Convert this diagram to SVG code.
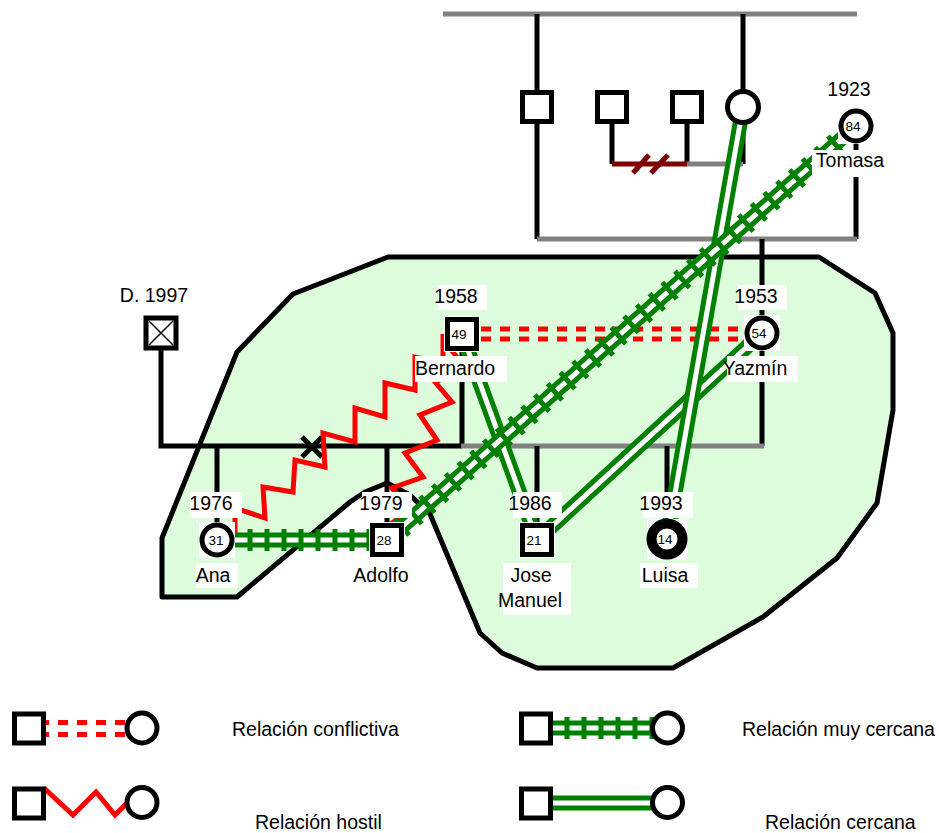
<svg xmlns="http://www.w3.org/2000/svg" width="939" height="833" viewBox="0 0 939 833">
  <style>
    text { font-family: "Liberation Sans", Arial, sans-serif; fill: #000; }
    .lbl { font-size: 19.5px; text-anchor: middle; }
    .num { font-size: 13.5px; text-anchor: middle; }
    .leg { font-size: 19.5px; }
    .bg { fill: #fff; }
    .fam { stroke: #000; stroke-width: 5; fill: none; }
    .gray { stroke: #808080; stroke-width: 5; fill: none; }
    .div { stroke: #800000; stroke-width: 5; fill: none; }
    .shape { fill: #fff; stroke: #000; stroke-width: 5; }
    .g-out { stroke: #008000; stroke-width: 15; fill: none; }
    .g-in { stroke: #fff; stroke-width: 5; fill: none; }
    .g-tie { stroke: #008000; stroke-width: 22; stroke-dasharray: 5 12; fill: none; }
    .conflict { stroke: #f00; stroke-width: 5; stroke-dasharray: 10 9; fill: none; }
    .hostile { stroke: #f00; stroke-width: 5; fill: none; stroke-linejoin: miter; }
  </style>

  <!-- household boundary -->
  <path id="household" d="M388,257 L819,257 L875,293 L893,333 L893,410 L877,503 L837,558 L763,617 L673,668 L537,668 L502,653 L480,633 L430,514 L410,495 L387,483 L365,492 L350,502 L237,597 L162,597 L162,538 L237,352 L293,294 Z" fill="#dcfcdc" stroke="#000" stroke-width="5" stroke-linejoin="round"/>

  <g id="connectors">
    <!-- family lines -->
    <path class="gray" d="M443,14 H857"/>
    <path class="fam" d="M537,14 V239"/>
    <path class="fam" d="M743,14 V107"/>
    <path class="fam" d="M612,107 V164 M687,107 V164 M743,107 V164"/>
    <path class="div" d="M612,164 H687"/>
    <path class="div" d="M633,173 L649,155 M651,173 L668,155"/>
    <path class="gray" d="M687,164 H743"/>
    <path class="fam" d="M856,126 V239"/>
    <path class="gray" d="M537,239 H857"/>
    <path class="fam" d="M762,239 V333"/>

    <path class="fam" d="M161,333 V446 H462"/>
    <path class="fam" d="M462,334 V446"/>
    <path class="fam" d="M762,333 V446"/>
    <path class="gray" d="M461,446 H764"/>
    <path class="fam" d="M302,437 L322,457 M322,437 L302,457"/>
    <path class="fam" d="M217,446 V540 M387,446 V540 M537,446 V540 M667,446 V540"/>

    <!-- conflict: Bernardo - Yazmín -->
    <path class="conflict" d="M462,329 H762 M462,339 H762"/>

    <!-- hostile: Ana - Bernardo, Bernardo - Adolfo -->
    <path class="hostile" d="M235,540 L235,508 L265,518 L263,487 L293,492 L295,460 L325,467 L323,433 L355,442 L355,408 L385,417 L385,383 L415,390 L415,357 L443,363 L443,334"/>
    <path class="hostile" d="M446,344 L467,369 L435,382 L452,402 L420,415 L437,440 L405,453 L423,477 L392,488 L409,512 L390,524"/>

    <!-- close: Bernardo - Jose Manuel -->
    <path class="g-out" d="M462,334 L537,540"/>
    <path class="g-in" d="M462,334 L537,540"/>
    <!-- close: Yazmín - Jose Manuel -->
    <path class="g-out" d="M762,333 L537,540"/>
    <path class="g-in" d="M762,333 L537,540"/>
    <!-- close: mother - Luisa -->
    <path class="g-out" d="M743,107 L667,539"/>
    <path class="g-in" d="M743,107 L667,539"/>

    <!-- very close: Ana - Adolfo -->
    <path class="g-out" d="M217,540 H387"/>
    <path class="g-in" d="M217,540 H387"/>
    <path class="g-tie" d="M247.5,540 H370"/>

    <!-- very close: Adolfo - Tomasa -->
    <path class="g-out" d="M387,540 L856,126"/>
    <path class="g-in" d="M387,540 L856,126"/>
    <path class="g-tie" d="M400,528.5 L845,135.7"/>
  </g>

  <!-- upper generation -->
  <g id="gp-m1">
    <rect class="shape" x="522.5" y="92.5" width="29" height="29"/>
  </g>
  <g id="gp-m2">
    <rect class="shape" x="597.5" y="92.5" width="29" height="29"/>
  </g>
  <g id="gp-m3">
    <rect class="shape" x="672.5" y="92.5" width="29" height="29"/>
  </g>
  <g id="gp-f1">
    <circle class="shape" cx="743" cy="107" r="15.5"/>
  </g>

  <g id="tomasa">
    <rect class="bg" x="838" y="108" width="36" height="36"/>
    <circle class="shape" cx="856" cy="126" r="15"/>
    <text class="num" x="853" y="131">84</text>
    <text class="lbl" x="849" y="96">1923</text>
    <rect class="bg" x="812" y="150" width="74" height="27"/>
    <text class="lbl" x="850" y="167">Tomasa</text>
  </g>

  <g id="d1997">
    <rect class="shape" x="146" y="318" width="30" height="30" stroke-width="6"/>
    <path d="M149,321 L173,345 M173,321 L149,345" stroke="#000" stroke-width="1.5"/>
    <text class="lbl" x="154" y="302">D. 1997</text>
  </g>

  <g id="bernardo">
    <rect class="bg" x="444" y="316" width="36" height="36"/>
    <rect class="shape" x="447.5" y="319.5" width="29" height="29"/>
    <text class="num" x="459" y="339">49</text>
    <rect class="bg" x="438" y="285" width="49" height="25"/>
    <text class="lbl" x="456" y="303">1958</text>
    <rect class="bg" x="415" y="356" width="92" height="26"/>
    <text class="lbl" x="455" y="375">Bernardo</text>
  </g>

  <g id="yazmin">
    <rect class="bg" x="744" y="315" width="36" height="36"/>
    <circle class="shape" cx="762" cy="333" r="15"/>
    <text class="num" x="759" y="338">54</text>
    <rect class="bg" x="738" y="285" width="49" height="25"/>
    <text class="lbl" x="756" y="303">1953</text>
    <rect class="bg" x="727" y="356" width="71" height="26"/>
    <text class="lbl" x="755" y="375">Yazmín</text>
  </g>

  <g id="ana">
    <rect class="bg" x="199" y="522" width="36" height="36"/>
    <circle class="shape" cx="217" cy="540" r="15"/>
    <text class="num" x="216" y="545">31</text>
    <rect class="bg" x="190" y="492" width="52" height="26"/>
    <text class="lbl" x="211" y="510">1976</text>
    <rect class="bg" x="196" y="563" width="42" height="25"/>
    <text class="lbl" x="213" y="582">Ana</text>
  </g>

  <g id="adolfo">
    <rect class="bg" x="369" y="522" width="36" height="36"/>
    <rect class="shape" x="372.5" y="525.5" width="29" height="29"/>
    <text class="num" x="384" y="545">28</text>
    <rect class="bg" x="362" y="492" width="50" height="26"/>
    <text class="lbl" x="381" y="510">1979</text>
    <text class="lbl" x="381" y="582">Adolfo</text>
  </g>

  <g id="jose-manuel">
    <rect class="bg" x="519" y="522" width="36" height="36"/>
    <rect class="shape" x="522.5" y="525.5" width="29" height="29"/>
    <text class="num" x="534" y="545">21</text>
    <rect class="bg" x="513" y="492" width="49" height="26"/>
    <text class="lbl" x="530" y="510">1986</text>
    <rect class="bg" x="503" y="563" width="68" height="52"/>
    <text class="lbl" x="531" y="582">Jose</text>
    <text class="lbl" x="530" y="607">Manuel</text>
  </g>

  <g id="luisa">
    <rect class="bg" x="647" y="519" width="40" height="40"/>
    <circle cx="667" cy="539" r="15.5" fill="#fff" stroke="#000" stroke-width="10"/>
    <text class="num" x="665" y="544">14</text>
    <rect class="bg" x="643" y="492" width="50" height="26"/>
    <text class="lbl" x="661" y="510">1993</text>
    <rect class="bg" x="640" y="563" width="58" height="25"/>
    <text class="lbl" x="665" y="582">Luisa</text>
  </g>

  <!-- legend -->
  <g id="legend">
    <g id="leg-conflict">
      <path class="conflict" d="M20,722.5 H142 M20,734.5 H142"/>
      <rect class="shape" x="14.5" y="714" width="29" height="29"/>
      <circle class="shape" cx="142" cy="728" r="15"/>
      <text class="leg" x="232" y="736">Relación conflictiva</text>
    </g>
    <g id="leg-hostile">
      <path class="hostile" d="M44,788 L73,815 L96,792 L115,815 L127,803"/>
      <rect class="shape" x="14.5" y="789" width="29" height="29"/>
      <circle class="shape" cx="142" cy="802.5" r="15"/>
      <text class="leg" x="255" y="829">Relación hostil</text>
    </g>
    <g id="leg-very-close">
      <path class="g-out" d="M536,728 H667"/>
      <path class="g-in" d="M536,728 H667"/>
      <path class="g-tie" d="M564.5,728 H655"/>
      <rect class="shape" x="521.5" y="714" width="29" height="29"/>
      <circle class="shape" cx="667.5" cy="728" r="15"/>
      <text class="leg" x="742" y="736">Relación muy cercana</text>
    </g>
    <g id="leg-close">
      <path class="g-out" d="M536,803 H667"/>
      <path class="g-in" d="M536,803 H667"/>
      <rect class="shape" x="521.5" y="789" width="29" height="29"/>
      <circle class="shape" cx="667.5" cy="802.5" r="15"/>
      <text class="leg" x="765" y="829">Relación cercana</text>
    </g>
  </g>
</svg>
